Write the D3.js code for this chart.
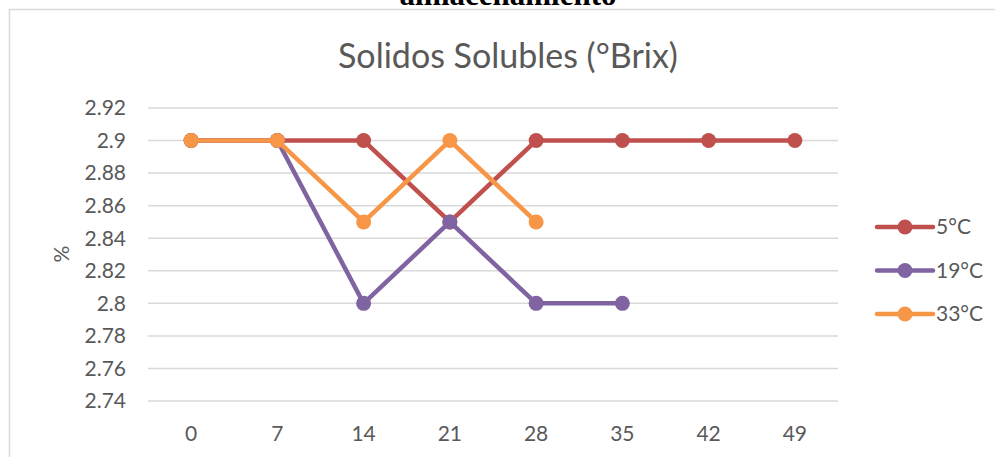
<!DOCTYPE html>
<html>
<head>
<meta charset="utf-8">
<script src="https://cdn.jsdelivr.net/npm/d3@7"></script>
<style>
  body { margin: 0; background: #fff; }
  svg { display: block; }
</style>
</head>
<body>
<svg id="chart"></svg>
<script>
const days = [0, 7, 14, 21, 28, 35, 42, 49];
const seriesNames = ["5°C", "19°C", "33°C"];
const brix5 = [2.9, 2.9, 2.9, 2.85, 2.9, 2.9, 2.9, 2.9];
const brix19 = [2.9, 2.9, 2.8, 2.85, 2.8, 2.8];
const brix33 = [2.9, 2.9, 2.85, 2.9, 2.85];
const yTicks = [2.74, 2.76, 2.78, 2.8, 2.82, 2.84, 2.86, 2.88, 2.9, 2.92];

const colors = ["#C0504D", "#8064A2", "#F79646"];
const width = 995, height = 457;
const font = "Lato, 'Open Sans', sans-serif";
const textColor = "#595959";

const svg = d3.select("#chart").attr("width", width).attr("height", height);

// heading of the page above the chart, cut off by the crop
svg.append("text")
  .attr("x", 508).attr("y", 5)
  .attr("text-anchor", "middle")
  .attr("font-family", "'Liberation Serif', serif")
  .attr("font-weight", "bold")
  .attr("font-size", 31)
  .attr("fill", "#000")
  .text("almacenamiento");

// chart frame (top and left edges visible)
svg.append("path")
  .attr("d", "M9.5,457V9.5H995")
  .attr("fill", "none")
  .attr("stroke", "#d9d9d9")
  .attr("stroke-width", 1.5);

const x = d3.scaleBand().domain(days).range([148, 838]);
const y = d3.scaleLinear().domain([2.74, 2.92]).range([401, 108]);

// gridlines
svg.append("g")
  .selectAll("line")
  .data(yTicks)
  .enter()
  .append("line")
  .attr("x1", 148).attr("x2", 838)
  .attr("y1", d => y(d)).attr("y2", d => y(d))
  .attr("stroke", "#d9d9d9")
  .attr("stroke-width", 1.5);

// y tick labels
svg.append("g")
  .selectAll("text")
  .data(yTicks)
  .enter()
  .append("text")
  .attr("x", 126)
  .attr("y", d => y(d))
  .attr("dy", "0.35em")
  .attr("text-anchor", "end")
  .attr("font-family", font)
  .attr("font-size", 21)
  .attr("fill", textColor)
  .text(d => d3.format("")(d));

// x tick labels
svg.append("g")
  .selectAll("text")
  .data(days)
  .enter()
  .append("text")
  .attr("x", d => x(d) + x.bandwidth() / 2)
  .attr("y", 434)
  .attr("dy", "0.35em")
  .attr("text-anchor", "middle")
  .attr("font-family", font)
  .attr("font-size", 21)
  .attr("fill", textColor)
  .text(d => d);

// title
svg.append("text")
  .attr("x", 508).attr("y", 56)
  .attr("dy", "0.35em")
  .attr("text-anchor", "middle")
  .attr("font-family", font)
  .attr("font-size", 34)
  .attr("fill", textColor)
  .text("Solidos Solubles (°Brix)");

// y axis label
svg.append("text")
  .attr("transform", "translate(62,254) rotate(-90)")
  .attr("dy", "0.35em")
  .attr("text-anchor", "middle")
  .attr("font-family", font)
  .attr("font-size", 21)
  .attr("fill", textColor)
  .text("%");

const series = [brix5, brix19, brix33].map((vals, i) => ({
  name: seriesNames[i],
  color: colors[i],
  points: vals.map((v, j) => ({ day: days[j], value: v }))
}));

const line = d3.line()
  .x(d => x(d.day) + x.bandwidth() / 2)
  .y(d => y(d.value));

const g = svg.append("g");
series.forEach(s => {
  g.append("path")
    .datum(s.points)
    .attr("d", line)
    .attr("fill", "none")
    .attr("stroke", s.color)
    .attr("stroke-width", 4.5)
    .attr("stroke-linejoin", "round");
  g.selectAll(null)
    .data(s.points)
    .enter()
    .append("circle")
    .attr("cx", d => x(d.day) + x.bandwidth() / 2)
    .attr("cy", d => y(d.value))
    .attr("r", 7.5)
    .attr("fill", s.color);
});

// legend
const legend = svg.append("g")
  .selectAll("g")
  .data(series)
  .enter()
  .append("g")
  .attr("transform", (d, i) => `translate(877,${227 + i * 43.5})`);
legend.append("line")
  .attr("x1", 0).attr("x2", 56)
  .attr("stroke", d => d.color)
  .attr("stroke-width", 4.5)
  .attr("stroke-linecap", "round");
legend.append("circle")
  .attr("cx", 28).attr("r", 7.5)
  .attr("fill", d => d.color);
legend.append("text")
  .attr("x", 59)
  .attr("dy", "0.35em")
  .attr("font-family", font)
  .attr("font-size", 21)
  .attr("fill", textColor)
  .text(d => d.name);
</script>
</body>
</html>
